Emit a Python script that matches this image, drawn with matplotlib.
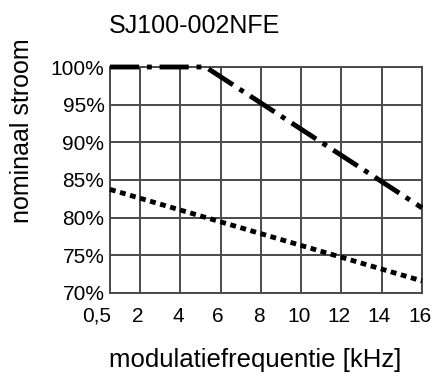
import matplotlib
matplotlib.use("Agg")
import matplotlib.pyplot as plt
import matplotlib.transforms as mtransforms

plt.rcParams['font.family'] = ['Liberation Sans', 'DejaVu Sans']

# curve 1: dash-dot (upper)
freq_a = [0.5, 5.25, 16]
curr_a = [100, 100, 81.3]
# curve 2: dotted (lower)
freq_b = [0.5, 16]
curr_b = [83.75, 71.6]

xticks = [0.5, 2, 4, 6, 8, 10, 12, 14, 16]
xlabels = ['0,5', '2', '4', '6', '8', '10', '12', '14', '16']
yticks = [70, 75, 80, 85, 90, 95, 100]
ylabels = ['70%', '75%', '80%', '85%', '90%', '95%', '100%']

fig = plt.figure(figsize=(4.33, 3.79), dpi=100)
ax = fig.add_axes([0.254, 0.227, 0.7206, 0.5962])

ax.plot(freq_a, curr_a, color='black', lw=3.5, dashes=(6, 1.6, 1, 1.6),
        solid_capstyle='butt', dash_capstyle='butt', clip_on=False, zorder=3)
ax.plot(freq_b, curr_b, color='black', lw=3.5, dashes=(1.2, 0.95),
        dash_capstyle='butt', clip_on=False, zorder=3)

ax.set_xlim(0.5, 16)
ax.set_ylim(70, 100)
ax.set_xticks(xticks)
ax.set_xticklabels(xlabels)
ax.set_yticks(yticks)
ax.set_yticklabels(ylabels)
ax.tick_params(length=0, labelsize=15)
ax.tick_params(axis='x', pad=10)
ax.tick_params(axis='y', pad=4)
ax.grid(True, color='#4a4a4a', lw=1.4)
for s in ax.spines.values():
    s.set_color('#4a4a4a')
    s.set_linewidth(1.4)

# x tick labels sit a bit left of the grid lines, "0,5" further left
for i, lab in enumerate(ax.get_xticklabels()):
    dx = -0.13 if i == 0 else -0.025
    lab.set_transform(lab.get_transform() +
                      mtransforms.ScaledTranslation(dx, 0, fig.dpi_scale_trans))

fig.text(0.448, 0.913, 'SJ100-002NFE', fontsize=18, ha='center', va='baseline')
fig.text(0.051, 0.655, 'nominaal stroom', fontsize=18, rotation=90,
         ha='center', va='center')
fig.text(0.589, 0.032, 'modulatiefrequentie [kHz]', fontsize=18.5,
         ha='center', va='baseline')

fig.savefig('out.png', dpi=100)
